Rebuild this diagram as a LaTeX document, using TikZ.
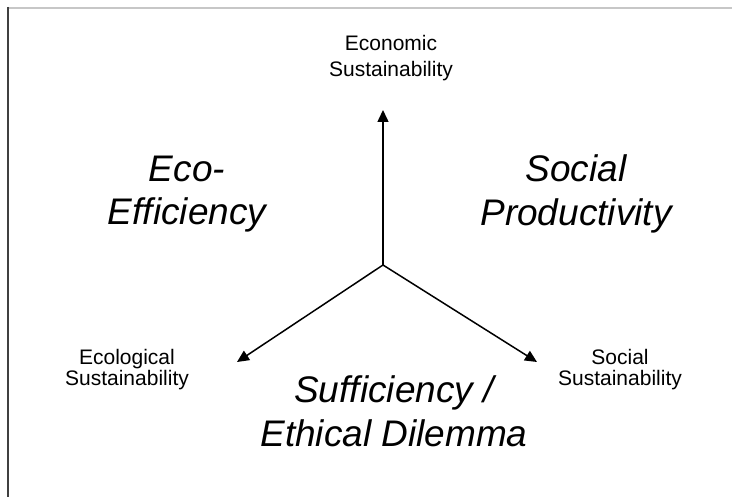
\documentclass[tikz,border=0pt]{standalone}
\usepackage{fontspec}
\setmainfont{Liberation Sans}
\usetikzlibrary{arrows.meta}

\tikzset{
  axislabel/.style={align=center, font=\fontsize{21}{21}\selectfont, inner sep=0pt},
  strategy/.style={align=center, font=\fontsize{37}{43.5}\selectfont\itshape, inner sep=0pt},
  axis/.style={line width=1.5pt, -{Triangle[length=12pt,width=11pt]}},
  frameleft/.style={draw=black!75, line width=2pt},
  frametop/.style={draw=black!22, line width=1.6pt}
}

\begin{document}
\begin{tikzpicture}[x=1pt, y=-1pt]
  \useasboundingbox (0,0) rectangle (732,497);

  % page frame
  \draw[frametop] (7,8) -- (732,8);
  \draw[frameleft] (7.5,7) -- (7.5,497);

  % three axes from the common origin
  \coordinate (hub) at (383,265);
  \coordinate (econTip) at (383,110);
  \coordinate (ecoTip) at (237,362);
  \coordinate (socTip) at (537,362);
  \draw[axis] (hub) -- (econTip);
  \draw[axis] (hub) -- (ecoTip);
  \draw[axis] (hub) -- (socTip);

  % axis labels
  \node[axislabel, font=\fontsize{21}{26.5}\selectfont] (econ) at (391,58) {Economic\\Sustainability};
  \node[axislabel] (ecol) at (127,370) {Ecological\\Sustainability};
  \node[axislabel] (soci) at (620,370) {Social\\Sustainability};

  % strategies between the axes
  \node[strategy] (effic) at (187,194) {Eco-\\Efficiency};
  \node[strategy] (prod) at (576,194) {Social\\Productivity};
  \node[strategy] (suff) at (394,411.5) {Sufficiency /\\Ethical Dilemma};
\end{tikzpicture}
\end{document}
